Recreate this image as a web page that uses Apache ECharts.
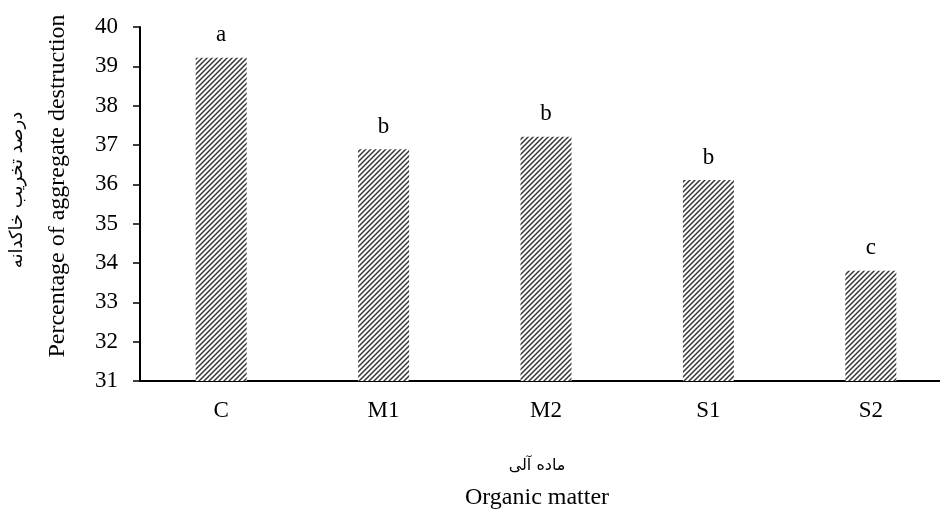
<!DOCTYPE html>
<html>
<head>
<meta charset="utf-8">
<script src="https://cdn.jsdelivr.net/npm/echarts@6/dist/echarts.min.js"></script>
<style>html,body{margin:0;padding:0;background:#fff}#c{width:940px;height:509px}</style>
</head>
<body>
<div id="c"></div>
<script>
var categories = ['C', 'M1', 'M2', 'S1', 'S2'];
var values = [39.22, 36.89, 37.21, 36.11, 33.80];
var letters = ['a', 'b', 'b', 'b', 'c'];
var yMin = 31, yMax = 40, yInterval = 1;
var yTitleEn = 'Percentage of aggregate destruction';
var yTitleFa = 'درصد تخریب خاکدانه';
var xTitleEn = 'Organic matter';
var xTitleFa = 'ماده آلی';

var SERIF = '"Liberation Serif", "Times New Roman", serif';
var FA = '"DejaVu Sans", "Noto Sans", sans-serif';

// hatch pattern
var P = 5;
var tile = document.createElement('canvas');
tile.width = P; tile.height = P;
var g = tile.getContext('2d');
g.fillStyle = '#ffffff';
g.fillRect(0, 0, P, P);
g.strokeStyle = '#333333';
g.lineWidth = 1.45;
g.beginPath();
g.moveTo(-1, P + 1); g.lineTo(P + 1, -1);
g.moveTo(-1, 1); g.lineTo(1, -1);
g.moveTo(P - 1, P + 1); g.lineTo(P + 1, P - 1);
g.stroke();

var chart = echarts.init(document.getElementById('c'), null, {renderer: 'canvas'});
chart.setOption({
  animation: false,
  backgroundColor: '#ffffff',
  grid: {left: 140, top: 27, width: 812, height: 354, containLabel: false, outerBoundsMode: 'none'},
  xAxis: {
    type: 'category',
    data: categories,
    axisLine: {lineStyle: {color: '#000', width: 2}},
    axisTick: {show: false},
    axisLabel: {color: '#000', fontFamily: SERIF, fontSize: 23, margin: 18}
  },
  yAxis: {
    type: 'value',
    min: yMin, max: yMax, interval: yInterval,
    axisLine: {show: true, lineStyle: {color: '#000', width: 2}},
    axisTick: {show: true, length: 7, lineStyle: {color: '#000', width: 1.5}},
    splitLine: {show: false},
    axisLabel: {color: '#000', fontFamily: SERIF, fontSize: 23, margin: 22}
  },
  series: [{
    type: 'bar',
    data: values,
    barWidth: 51,
    itemStyle: {color: {image: tile, repeat: 'repeat'}},
    label: {
      show: true, position: 'top', distance: 11,
      color: '#000', fontFamily: SERIF, fontSize: 23,
      formatter: function (p) { return letters[p.dataIndex]; }
    }
  }],
  graphic: [
    {type: 'text', x: 58, y: 186, rotation: Math.PI / 2,
     style: {text: yTitleEn, fontFamily: SERIF, fontSize: 24, fill: '#000', align: 'center', verticalAlign: 'middle'}},
    {type: 'text', x: 17, y: 190, rotation: Math.PI / 2,
     style: {text: yTitleFa, fontFamily: FA, fontSize: 18, fill: '#000', align: 'center', verticalAlign: 'middle'}},
    {type: 'text', x: 537, y: 466,
     style: {text: xTitleFa, fontFamily: FA, fontSize: 16, fill: '#000', align: 'center', verticalAlign: 'middle'}},
    {type: 'text', x: 537, y: 498,
     style: {text: xTitleEn, fontFamily: SERIF, fontSize: 24, fill: '#000', align: 'center', verticalAlign: 'middle'}}
  ]
});
</script>
</body>
</html>
